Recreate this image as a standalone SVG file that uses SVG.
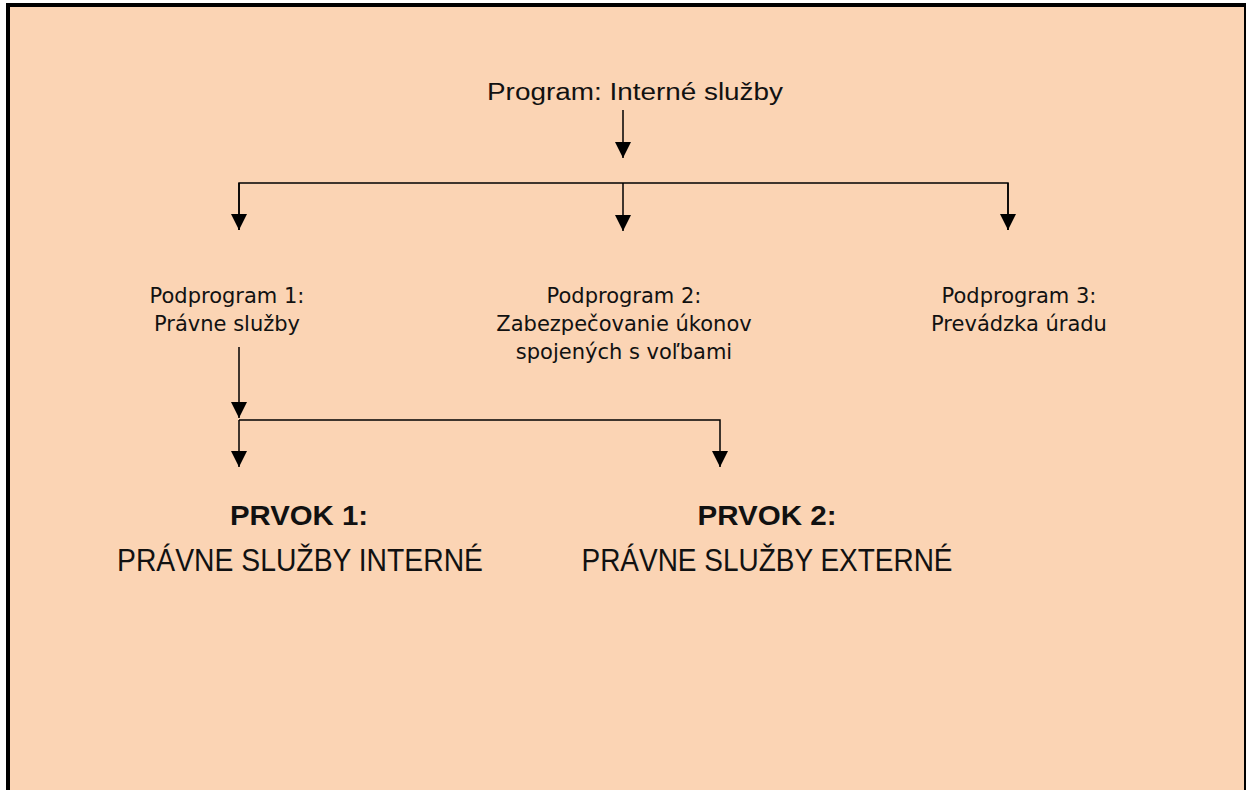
<svg xmlns="http://www.w3.org/2000/svg" width="1246" height="790" viewBox="0 0 1246 790">
<style>
.title{font-family:"Liberation Sans","DejaVu Sans",sans-serif;fill:#111}
.sub{font-family:"DejaVu Sans","Liberation Sans",sans-serif;font-size:21px;fill:#111;text-anchor:middle}
.big{font-family:"Liberation Sans","DejaVu Sans",sans-serif;fill:#111;text-anchor:middle}
.conn{stroke:#000;stroke-width:1.5;fill:none}
</style>
<defs>
<marker id="ah" markerWidth="16" markerHeight="16" viewBox="0 0 16 16" refX="16" refY="8" orient="auto" markerUnits="userSpaceOnUse">
<path d="M0,0 L16,8 L0,16 Z" fill="#000"/>
</marker>
</defs>
<rect x="0" y="0" width="1246" height="790" fill="#ffffff"/>
<rect x="8" y="5" width="1238" height="785" fill="#FBD4B4"/>
<line x1="8" y1="3" x2="8" y2="790" stroke="#000" stroke-width="4"/>
<line x1="6" y1="5" x2="1246" y2="5" stroke="#000" stroke-width="4"/>
<line x1="1245" y1="3" x2="1245" y2="790" stroke="#000" stroke-width="2"/>

<g id="program">
<text class="title" x="635" y="100" font-size="23" text-anchor="middle" textLength="296" lengthAdjust="spacingAndGlyphs">Program: Interné služby</text>
</g>
<g id="podprogram1">
<text class="sub" x="227" y="303">Podprogram 1:</text>
<text class="sub" x="227" y="331">Právne služby</text>
</g>
<g id="podprogram2">
<text class="sub" x="624" y="303">Podprogram 2:</text>
<text class="sub" x="624" y="331">Zabezpečovanie úkonov</text>
<text class="sub" x="624" y="359">spojených s voľbami</text>
</g>
<g id="podprogram3">
<text class="sub" x="1019" y="303">Podprogram 3:</text>
<text class="sub" x="1019" y="331">Prevádzka úradu</text>
</g>
<g id="prvok1">
<text class="big" x="299" y="525" font-size="28" font-weight="bold" textLength="138" lengthAdjust="spacingAndGlyphs">PRVOK 1:</text>
<text class="big" x="300" y="571" font-size="31" textLength="366" lengthAdjust="spacingAndGlyphs">PRÁVNE SLUŽBY INTERNÉ</text>
</g>
<g id="prvok2">
<text class="big" x="767" y="525" font-size="28" font-weight="bold" textLength="139" lengthAdjust="spacingAndGlyphs">PRVOK 2:</text>
<text class="big" x="767" y="571" font-size="31" textLength="371" lengthAdjust="spacingAndGlyphs">PRÁVNE SLUŽBY EXTERNÉ</text>
</g>
<g id="connectors">
<line class="conn" x1="623" y1="110" x2="623" y2="158" marker-end="url(#ah)"/>
<polyline class="conn" points="239,230 239,183 1008,183 1008,230"/>
<line class="conn" x1="239" y1="183" x2="239" y2="230" marker-end="url(#ah)"/>
<line class="conn" x1="1008" y1="183" x2="1008" y2="230" marker-end="url(#ah)"/>
<line class="conn" x1="623" y1="183" x2="623" y2="231" marker-end="url(#ah)"/>
<line class="conn" x1="239" y1="347" x2="239" y2="418" marker-end="url(#ah)"/>
<polyline class="conn" points="239,420 720,420 720,467" marker-end="url(#ah)"/>
<line class="conn" x1="239" y1="420" x2="239" y2="467" marker-end="url(#ah)"/>
</g>
</svg>
